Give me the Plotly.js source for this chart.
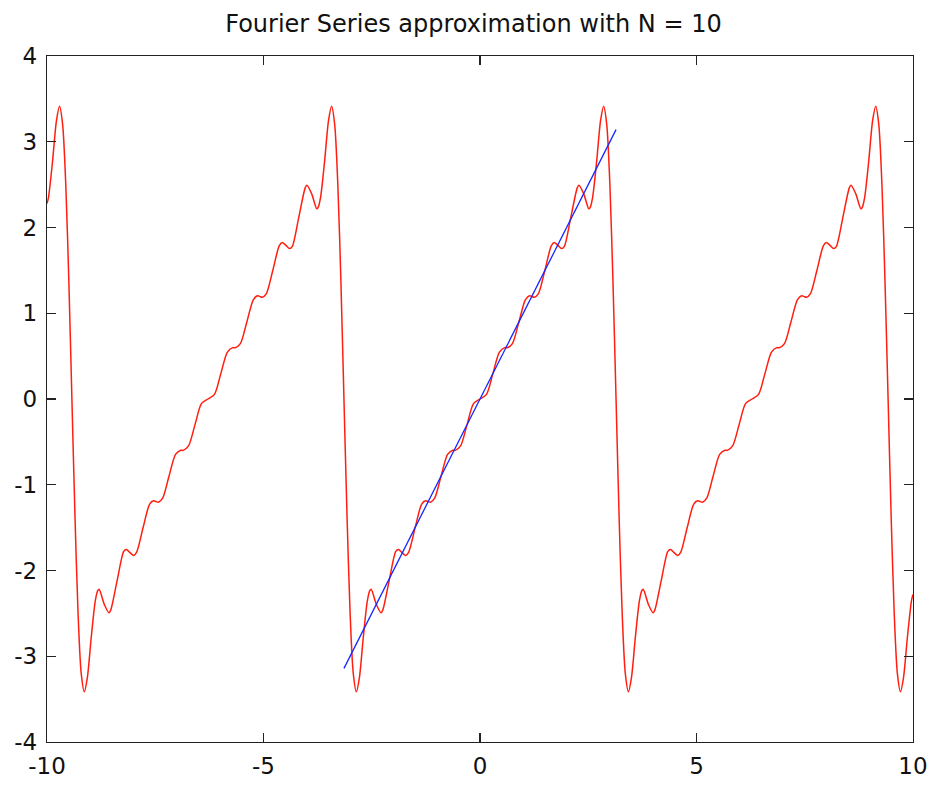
<!DOCTYPE html>
<html>
<head>
<meta charset="utf-8">
<script src="https://cdn.plot.ly/plotly-3.0.1.min.js"></script>
<style>html,body{margin:0;padding:0;background:#fff;}#chart{width:932px;height:785px;}</style>
</head>
<body>
<div id="chart"></div>
<script>
// Fourier partial sum (N = 10)
const seriesX = [
  -10, -9.966, -9.873, -9.781, -9.710, -9.639, -9.567, -9.496, -9.425,
  -9.353, -9.282, -9.210, -9.139, -9.068, -8.976, -8.883, -8.826, -8.796, -8.677,
  -8.568, -8.527, -8.377, -8.228, -8.168, -8.078, -7.997, -7.929, -7.779, -7.629,
  -7.540, -7.480, -7.425, -7.330, -7.181, -7.031, -6.911, -6.881, -6.854, -6.732,
  -6.582, -6.433, -6.283, -6.133, -5.984, -5.834, -5.712, -5.685, -5.655, -5.535,
  -5.385, -5.236, -5.141, -5.086, -5.026, -4.937, -4.787, -4.637, -4.569, -4.488,
  -4.398, -4.338, -4.189, -4.039, -3.998, -3.889, -3.770, -3.740, -3.683, -3.590,
  -3.498, -3.427, -3.356, -3.284, -3.213, -3.142,
  -3.070, -2.999, -2.927, -2.856, -2.785, -2.693, -2.600, -2.543, -2.513, -2.394,
  -2.285, -2.244, -2.094, -1.945, -1.885, -1.795, -1.714, -1.646, -1.496, -1.346,
  -1.257, -1.197, -1.142, -1.047, -0.898, -0.748, -0.628, -0.598, -0.571, -0.449,
  -0.299, -0.150, 0, 0.150, 0.299, 0.449, 0.571, 0.598, 0.628, 0.748,
  0.898, 1.047, 1.142, 1.197, 1.257, 1.346, 1.496, 1.646, 1.714, 1.795,
  1.885, 1.945, 2.094, 2.244, 2.285, 2.394, 2.513, 2.543, 2.600, 2.693,
  2.785, 2.856, 2.927, 2.999, 3.070, 3.142,
  3.213, 3.284, 3.356, 3.427, 3.498, 3.590, 3.683, 3.740, 3.770, 3.889,
  3.998, 4.039, 4.189, 4.338, 4.398, 4.488, 4.569, 4.637, 4.787, 4.937,
  5.026, 5.086, 5.141, 5.236, 5.385, 5.535, 5.655, 5.685, 5.712, 5.834,
  5.984, 6.133, 6.283, 6.433, 6.582, 6.732, 6.854, 6.881, 6.911, 7.031,
  7.181, 7.330, 7.425, 7.480, 7.540, 7.629, 7.779, 7.929, 7.997, 8.078,
  8.168, 8.228, 8.377, 8.527, 8.568, 8.677, 8.796, 8.826, 8.883, 8.976,
  9.068, 9.139, 9.210, 9.282, 9.353, 9.425,
  9.496, 9.567, 9.639, 9.710, 9.781, 9.873, 9.966, 10
];
const seriesY = [
  2.280, 2.349, 2.767, 3.248, 3.414, 3.200, 2.507, 1.382, 0,
  -1.382, -2.507, -3.200, -3.414, -3.248, -2.767, -2.349, -2.233, -2.219, -2.395,
  -2.493, -2.459, -2.109, -1.776, -1.754, -1.795, -1.824, -1.785, -1.496, -1.225,
  -1.187, -1.197, -1.204, -1.157, -0.898, -0.646, -0.597, -0.598, -0.599, -0.547,
  -0.299, -0.054, 0, 0.054, 0.299, 0.547, 0.599, 0.598, 0.597, 0.646,
  0.898, 1.157, 1.204, 1.197, 1.187, 1.225, 1.496, 1.785, 1.824, 1.795,
  1.754, 1.776, 2.109, 2.459, 2.493, 2.395, 2.219, 2.233, 2.349, 2.767,
  3.248, 3.414, 3.200, 2.507, 1.382, 0,
  -1.382, -2.507, -3.200, -3.414, -3.248, -2.767, -2.349, -2.233, -2.219, -2.395,
  -2.493, -2.459, -2.109, -1.776, -1.754, -1.795, -1.824, -1.785, -1.496, -1.225,
  -1.187, -1.197, -1.204, -1.157, -0.898, -0.646, -0.597, -0.598, -0.599, -0.547,
  -0.299, -0.054, 0, 0.054, 0.299, 0.547, 0.599, 0.598, 0.597, 0.646,
  0.898, 1.157, 1.204, 1.197, 1.187, 1.225, 1.496, 1.785, 1.824, 1.795,
  1.754, 1.776, 2.109, 2.459, 2.493, 2.395, 2.219, 2.233, 2.349, 2.767,
  3.248, 3.414, 3.200, 2.507, 1.382, 0,
  -1.382, -2.507, -3.200, -3.414, -3.248, -2.767, -2.349, -2.233, -2.219, -2.395,
  -2.493, -2.459, -2.109, -1.776, -1.754, -1.795, -1.824, -1.785, -1.496, -1.225,
  -1.187, -1.197, -1.204, -1.157, -0.898, -0.646, -0.597, -0.598, -0.599, -0.547,
  -0.299, -0.054, 0, 0.054, 0.299, 0.547, 0.599, 0.598, 0.597, 0.646,
  0.898, 1.157, 1.204, 1.197, 1.187, 1.225, 1.496, 1.785, 1.824, 1.795,
  1.754, 1.776, 2.109, 2.459, 2.493, 2.395, 2.219, 2.233, 2.349, 2.767,
  3.248, 3.414, 3.200, 2.507, 1.382, 0,
  -1.382, -2.507, -3.200, -3.414, -3.248, -2.767, -2.349, -2.280
];
// exact function f(x) = x on [-pi, pi]
const exactX = [-3.1416, 3.1416];
const exactY = [-3.1416, 3.1416];

const xTicks = [-10, -5, 0, 5, 10];
const yTicks = [-4, -3, -2, -1, 0, 1, 2, 3, 4];
const titleText = 'Fourier Series approximation with N = 10';

const fontFamily = '"DejaVu Sans", "Liberation Sans", Arial, sans-serif';

const traces = [
  {x: seriesX, y: seriesY, type: 'scatter', mode: 'lines',
   line: {color: 'rgb(255,30,15)', width: 1.5, shape: 'spline', smoothing: 0.8},
   hoverinfo: 'skip'},
  {x: exactX, y: exactY, type: 'scatter', mode: 'lines',
   line: {color: 'rgb(20,40,255)', width: 1.3}, hoverinfo: 'skip'}
];

const axisCommon = {
  showgrid: false, zeroline: false, showline: true, linecolor: '#222', linewidth: 1.3,
  mirror: 'ticks', ticks: 'inside', ticklen: 9, tickwidth: 1.2, tickcolor: '#222',
  tickfont: {family: fontFamily, size: 23, color: '#111'}
};

const layout = {
  width: 932, height: 785,
  paper_bgcolor: '#fff', plot_bgcolor: '#fff',
  margin: {l: 47, r: 19, t: 56, b: 43, pad: 0},
  showlegend: false,
  title: {text: titleText, font: {family: fontFamily, size: 24, color: '#111'},
          xref: 'container', x: 0.508, xanchor: 'center',
          yref: 'container', y: 1 - 24/785, yanchor: 'middle'},
  xaxis: Object.assign({}, axisCommon, {range: [-10, 10], tickmode: 'array', tickvals: xTicks,
          ticktext: xTicks.map(String), ticklabelstandoff: 3}),
  yaxis: Object.assign({}, axisCommon, {range: [-4, 4], tickmode: 'array', tickvals: yTicks,
          ticktext: yTicks.map(String), ticklabelstandoff: 4})
};

Plotly.newPlot('chart', traces, layout, {staticPlot: true, displayModeBar: false});
</script>
</body>
</html>
